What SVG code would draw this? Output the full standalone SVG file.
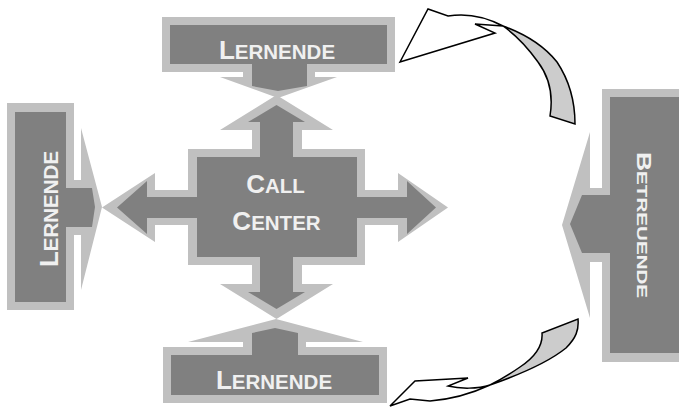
<svg xmlns="http://www.w3.org/2000/svg" width="679" height="407" viewBox="0 0 679 407">
<style>
.rim{fill:#c0c0c0}
.core{fill:#808080}
.lbl{font-family:"Liberation Sans",Arial,sans-serif;font-weight:bold;fill:#f0f0f0;text-anchor:middle}
.big{font-size:26px}
.sm{font-size:20.5px}
.bbig{font-size:20px}
.bsm{font-size:15.5px}
.cw{stroke:#000;stroke-width:1.5;stroke-linejoin:miter}
</style>
<rect width="679" height="407" fill="#fff"/>
<g id="lernende-top">
<path class="rim" d="M162,17 H395 V72 H315 V77 H337 L278,98 L220,77 H243 V72 H162 Z"/>
<path class="core" d="M170,25 H387 V64 H307 V86 L278,91 L252,86 V64 H170 Z"/>
<text class="lbl" x="277" y="59"><tspan class="big">L</tspan><tspan class="sm">ERNENDE</tspan></text>
</g>
<g id="lernende-left">
<path class="rim" d="M7,103 H74 V180 H81 V128 L102,207 L81,290 V235 H74 V310 H7 Z"/>
<path class="core" d="M15,112 H66 V188 H92 L95,207 L92,227 H66 V302 H15 Z"/>
<text class="lbl" transform="translate(58,209) rotate(-90)"><tspan class="big">L</tspan><tspan class="sm">ERNENDE</tspan></text>
</g>
<g id="lernende-bottom">
<path class="rim" d="M163,347 H243 V342 H188 L276,319 L363,342 H306 V347 H387 V403 H163 Z"/>
<path class="core" d="M171,355 H252 V333 L275,328 L298,333 V355 H379 V395 H171 Z"/>
<text class="lbl" x="274" y="389"><tspan class="big">L</tspan><tspan class="sm">ERNENDE</tspan></text>
</g>
<g id="betreuende">
<path class="rim" d="M690,89 H602 V188 H590 V132 L562,225 L590,318 V262 H602 V362 H690 Z"/>
<path class="core" d="M690,97 H610 V195 H582 L570,224 L582,253 H610 V353 H690 Z"/>
<text class="lbl" transform="translate(637,225) rotate(90) scale(1.33,1)"><tspan class="bbig">B</tspan><tspan class="bsm">ETREUENDE</tspan></text>
</g>
<g id="call-center">
<path class="rim" d="M276.5,95 L333,130 H302 V149 H365 V190 H398 V173 L448,207.5 L398,242 V225 H365 V265 H302 V284 H333 L276.5,319 L220,284 H252 V265 H188 V225 H155 V242 L102,207.5 L155,173 V190 H188 V149 H252 V130 H220 Z"/>
<path class="core" d="M276.5,105 L305,122 H293 V157 H357 V197 H407 V181 L436,207.5 L407,234 V218 H357 V257 H293 V292 H305 L276.5,309 L248,292 H260 V257 H197 V218 H147 V234 L117,207.5 L147,181 V197 H197 V157 H260 V122 H248 Z"/>
<text class="lbl" x="275.5" y="193"><tspan class="big">C</tspan><tspan class="sm">ALL</tspan></text>
<text class="lbl" x="276.5" y="229.5"><tspan class="big">C</tspan><tspan class="sm">ENTER</tspan></text>
</g>
<g id="connectors">
<path class="cw" fill="#cccccc" d="M503,26 C525,34 545,47 557,62 C569,80 575,100 575,124 L550,116 C553,98 550,78 538,62 C528,48 516,35 503,26 Z"/>
<path class="cw" fill="#ffffff" d="M400,62 L428,9 L448,16 C466,13 486,17 503,26 L475,24 L495,33 Z"/>
<path class="cw" fill="#cccccc" d="M490,385 C510,378 545,365 566,348 C576,338 579,330 578,319 L542,333 C543,345 535,357 520,367 C510,374 500,380 490,385 Z"/>
<path class="cw" fill="#ffffff" d="M390,406 L415,381 L468,378 L448,386 C460,389 478,389 490,385 C475,392 455,399 430,401 L410,399 Z"/>
</g>
</svg>
